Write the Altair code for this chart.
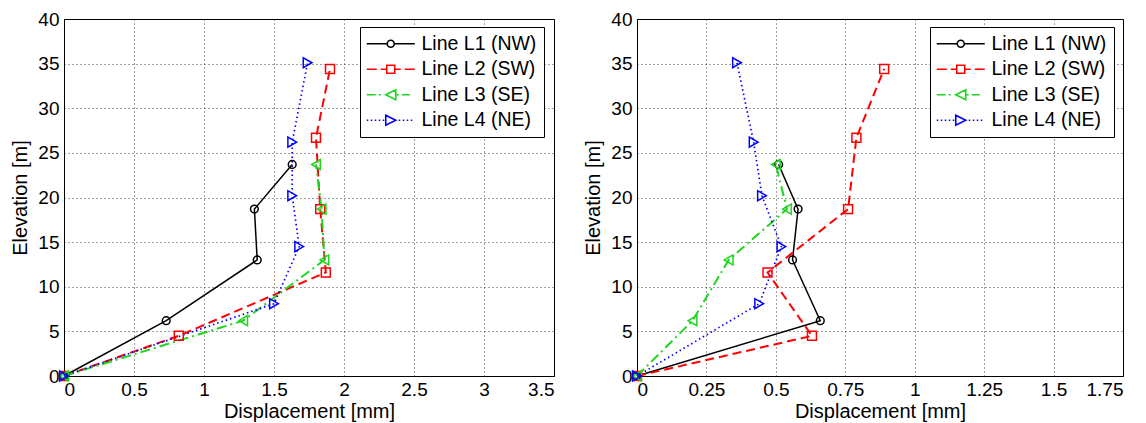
import altair as alt
import pandas as pd

# ---------------- data ----------------
SERIES = ["Line L1 (NW)", "Line L2 (SW)", "Line L3 (SE)", "Line L4 (NE)"]

ELEV_L1 = [0, 6.2, 13.0, 18.7, 23.7]
ELEV_L2 = [0, 4.5, 11.6, 18.7, 26.7, 34.4]
ELEV_L3 = [0, 6.2, 13.0, 18.7, 23.7]
ELEV_L4 = [0, 8.1, 14.5, 20.2, 26.2, 35.1]

LEFT_L1 = [0, 0.73, 1.38, 1.36, 1.63]
LEFT_L2 = [0, 0.82, 1.87, 1.83, 1.80, 1.90]
LEFT_L3 = [0, 1.28, 1.86, 1.84, 1.80]
LEFT_L4 = [0, 1.50, 1.68, 1.63, 1.63, 1.74]

RIGHT_L1 = [0, 0.66, 0.56, 0.58, 0.51]
RIGHT_L2 = [0, 0.63, 0.47, 0.76, 0.79, 0.89]
RIGHT_L3 = [0, 0.20, 0.33, 0.54, 0.50]
RIGHT_L4 = [0, 0.44, 0.52, 0.45, 0.42, 0.36]

X_TICKS_LEFT = [0, 0.5, 1, 1.5, 2, 2.5, 3, 3.5]
X_TICKS_RIGHT = [0, 0.25, 0.5, 0.75, 1, 1.25, 1.5, 1.75]
Y_TICKS = [0, 5, 10, 15, 20, 25, 30, 35, 40]

# ---------------- styles ----------------
COLORS = ["#000000", "#ff0000", "#1fd51f", "#0000ff"]
WIDTHS = [1.5, 2.0, 2.0, 1.7]
DASHES = [None, [9, 5], [10, 4, 2, 4], [1.5, 3]]
SHAPES = ["circle", "square", "triangle-left", "triangle-right"]
SIZES = [60, 80, 100, 100]
FONT = "Liberation Sans"

# legend glyphs: line segments + marker, in units of 5 px (symbolSize 100)
LEGEND_PATHS = [
    "M-2,0H2.1M3.5,0H7.6M3.5,0A0.7,0.7 0 1,1 2.1,0A0.7,0.7 0 1,1 3.5,0",
    "M-2,0H0M0.8,0H2M3.6,0H4.8M5.6,0H7.6M2,-0.8H3.6V0.8H2Z",
    "M-2,0H-0.2M0.4,0H0.8M1.8,0L3.8,-1V1Z M3.8,0H4.4M5,0H6.6",
    "M-2,0H-1.7M-1.2,0H-0.9M-0.4,0H-0.1M0.4,0H0.7M1.2,0H1.5M1.8,-1L3.8,0L1.8,1Z"
    "M4.4,0H4.7M5.2,0H5.5M6,0H6.3M6.8,0H7.1",
]


def make_df(xs_list, elevs):
    rows = []
    for s, xs, ys in zip(SERIES, xs_list, elevs):
        for i, (x, y) in enumerate(zip(xs, ys)):
            rows.append({"series": s, "idx": i, "disp": x, "elev": y})
    return pd.DataFrame(rows)


ELEVS = [ELEV_L1, ELEV_L2, ELEV_L3, ELEV_L4]
df_left = make_df([LEFT_L1, LEFT_L2, LEFT_L3, LEFT_L4], ELEVS)
df_right = make_df([RIGHT_L1, RIGHT_L2, RIGHT_L3, RIGHT_L4], ELEVS)


def panel(df, ticks, width, legend_x):
    xs = alt.Scale(domain=[ticks[0], ticks[-1]], nice=False, zero=False)
    ys = alt.Scale(domain=[Y_TICKS[0], Y_TICKS[-1]], nice=False)
    xax = alt.Axis(values=ticks, labelExpr="'' + datum.value", title="Displacement [mm]")
    yax = alt.Axis(values=Y_TICKS, labelExpr="'' + datum.value", title="Elevation [m]")
    X = alt.X("disp:Q", scale=xs, axis=xax)
    Y = alt.Y("elev:Q", scale=ys, axis=yax)
    layers = []
    for i, s in enumerate(SERIES):
        base = alt.Chart(df).transform_filter(alt.datum.series == s)
        kw = dict(color=COLORS[i], strokeWidth=WIDTHS[i])
        if DASHES[i] is not None:
            kw["strokeDash"] = DASHES[i]
        layers.append(base.mark_line(**kw).encode(x=X, y=Y, order="idx:Q"))
    for i, s in enumerate(SERIES):
        base = alt.Chart(df).transform_filter(alt.datum.series == s)
        layers.append(
            base.mark_point(shape=SHAPES[i], color=COLORS[i], size=SIZES[i],
                            filled=False, strokeWidth=1.5, opacity=1)
            .encode(x=X, y=Y)
        )
    leg = alt.Legend(
        title=None, orient="none", legendX=legend_x, legendY=8,
        strokeColor="black", fillColor="white", padding=7,
        labelFontSize=19.5, labelFont=FONT, labelColor="black",
        labelOffset=35, symbolSize=100, symbolOpacity=1,
        symbolStrokeWidth=1.6, rowPadding=4.5, labelLimit=300,
    )
    legend_layer = alt.Chart(df).mark_point(opacity=0, filled=False, strokeWidth=1.6).encode(
        x=X, y=Y,
        color=alt.Color("series:N", scale=alt.Scale(domain=SERIES, range=COLORS), legend=leg),
        shape=alt.Shape("series:N", scale=alt.Scale(domain=SERIES, range=LEGEND_PATHS), legend=leg),
    )
    layers.append(legend_layer)
    return alt.layer(*layers).properties(width=width, height=357)


left = panel(df_left, X_TICKS_LEFT, 490, 296)
right = panel(df_right, X_TICKS_RIGHT, 486, 293)

chart = (
    alt.hconcat(left, right, spacing=83, bounds="flush")
    .resolve_scale(color="independent", shape="independent")
    .resolve_legend(color="independent", shape="independent")
    .properties(padding={"top": 1, "left": 2, "right": 5, "bottom": 0})
    .configure_view(stroke="black", strokeWidth=1)
    .configure_axis(
        domainColor="black", domainWidth=1,
        grid=True, gridColor="black", gridDash=[1, 3], gridOpacity=0.75, gridWidth=1,
        ticks=False, tickSize=0,
        labelFont=FONT, labelFontSize=19, labelColor="black",
        titleFont=FONT, titleFontSize=20, titleColor="black", titleFontWeight="normal",
    )
    .configure_axisX(labelPadding=4, titlePadding=2)
    .configure_axisY(labelPadding=5, titlePadding=7)
)

chart.save("out.html", embed_options={"renderer": "svg", "actions": False})
